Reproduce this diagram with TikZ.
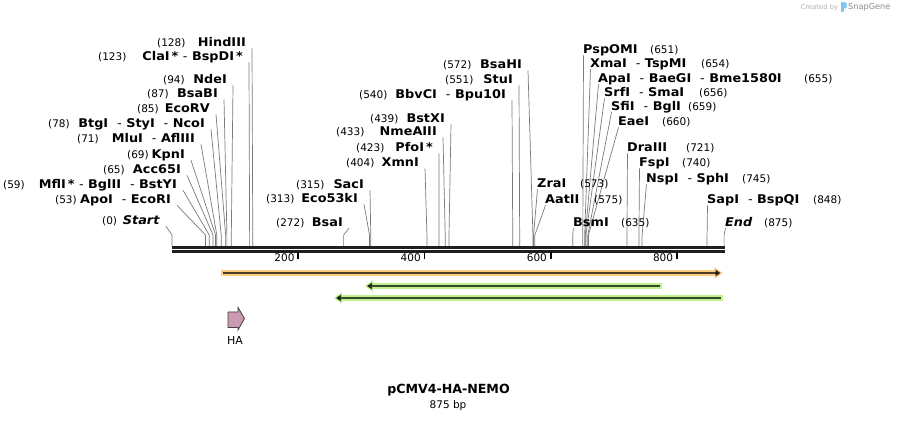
\documentclass[tikz,border=0pt]{standalone}
\usepackage{fontspec}
\setmainfont{DejaVu Sans}
\newfontfamily\cutfont{DejaVu Sans}[FakeStretch=1.07]
\usetikzlibrary{arrows.meta}
\definecolor{bandorange}{HTML}{FCCB7E}
\definecolor{bandgreen}{HTML}{BDF28F}
\definecolor{hapink}{HTML}{CC99B2}
\definecolor{logoblue}{HTML}{7FC8EE}
\newcommand{\dsh}{\ \ {\mdseries -}\ }
\tikzset{
    sitename/.style={inner sep=0pt, font=\fontsize{12}{14}\cutfont\bfseries},
    sitenum/.style={inner sep=0pt, font=\fontsize{10.5}{12}\selectfont},
    siteline/.style={draw=black!52, line width=0.7pt},
    axisbar/.style={draw=black!88, line width=2.7pt},
    tickmark/.style={draw=black, line width=1.8pt},
    band/.style={draw=#1, line width=6pt},
    core/.style={draw=black, opacity=0.7, line width=2.2pt}
}

\begin{document}
\begin{tikzpicture}[x=1pt, y=-1pt]
    \path[fill=white] (0,0) rectangle (898,422);
    \useasboundingbox (0,0) rectangle (898,422);

    % sequence axis
    \coordinate (top0) at (172,247.3);
    \coordinate (top1) at (725,247.3);
    \coordinate (bot0) at (172,251.3);
    \coordinate (bot1) at (725,251.3);
    \draw[axisbar] (top0) -- (top1);
    \draw[axisbar] (bot0) -- (bot1);
    \foreach \t in {200,400,600,800}{
        \coordinate (m\t) at ({172+0.631*\t},252.5);
        \draw[tickmark] (m\t) -- ++(0,7);
        \node[sitenum, anchor=base east] (t\t) at ({172+0.631*\t-3.5},262) {\t};
    }

    % labels left of the cut
    \foreach \bp/\ex/\cy/\nx/\txt in {
        128/246/42/157/HindIII,
        123/243/56/98/{ClaI\,*\ {\mdseries -}\ BspDI\,*},
        94/227/79/163/NdeI,
        87/218/93/147/BsaBI,
        85/210/108/137/EcoRV,
        78/205/123/48/{BtgI\dsh StyI\dsh NcoI},
        71/195/138/77/{MluI\dsh AflIII},
        69/185/154/127/KpnI,
        65/181/169/103/Acc65I,
        59/177/184/3/{MflI\,*\ {\mdseries -}\ BglII\dsh BstYI},
        53/171/199/55/{ApoI\dsh EcoRI},
        0/160/220/102/\textit{Start},
        572/522/64/443/BsaHI,
        551/513/79/445/StuI,
        540/506/94/359/{BbvCI\dsh Bpu10I},
        439/445/118/370/BstXI,
        433/437/131/336/NmeAIII,
        423/433/147/356/{PfoI\,*},
        404/419/162/346/XmnI,
        315/364/184/296/SacI,
        313/358/198/266/Eco53kI,
        272/343/222/276/BsaI}{
        \node[sitename, anchor=base east] (s\bp) at (\ex,{\cy+4.3}) {\txt};
        \node[sitenum, anchor=base west] (n\bp) at (\nx,{\cy+4.3}) {(\bp)};
        \coordinate (k\bp) at ({172+0.631*\bp},235);
        \coordinate (a\bp) at ({172+0.631*\bp},246);
        \draw[siteline] ([shift={(6,2)}]s\bp.base east) -- (k\bp) -- (a\bp);
    }

    % labels right of the cut
    \foreach \bp/\sx/\cy/\nx/\txt in {
        651/583/49/650/PspOMI,
        654/590/63/701/{XmaI\dsh TspMI},
        655/598/78/804/{ApaI\dsh BaeGI\dsh Bme1580I},
        656/604/92/699/{SrfI\dsh SmaI},
        659/611/106/688/{SfiI\dsh BglI},
        660/618/121/662/EaeI,
        721/627/147/686/DraIII,
        740/639/162/682/FspI,
        745/646/178/742/{NspI\dsh SphI},
        573/537/183/580/ZraI,
        575/545/199/594/AatII,
        848/707/199/813/{SapI\dsh BspQI},
        635/573/222/621/BsmI,
        875/725/222/764/\textit{End}}{
        \node[sitename, anchor=base west] (s\bp) at (\sx,{\cy+4.3}) {\txt};
        \node[sitenum, anchor=base west] (n\bp) at (\nx,{\cy+4.3}) {(\bp)};
        \coordinate (k\bp) at ({172+0.631*\bp},235);
        \coordinate (a\bp) at ({172+0.631*\bp},246);
        \draw[siteline] ([shift={(0.5,2)}]s\bp.base west) -- (k\bp) -- (a\bp);
    }

    % features
    \draw[band=bandorange, -{Triangle[length=8pt,width=11.5pt,line width=0pt]}] (221,273) -- (722.5,273);
    \draw[core, -{Triangle[length=5pt,width=6.5pt]}] (223,273) -- (720.5,273);
    \draw[band=bandgreen, -{Triangle[length=8pt,width=11.5pt,line width=0pt]}] (662,286) -- (365,286);
    \draw[core, -{Triangle[length=5pt,width=6.5pt]}] (660,286) -- (367,286);
    \draw[band=bandgreen, -{Triangle[length=8pt,width=11.5pt,line width=0pt]}] (723,298) -- (334,298);
    \draw[core, -{Triangle[length=5pt,width=6.5pt]}] (721,298) -- (336,298);

    \draw[fill=hapink, draw=black!75, line width=0.8pt]
        (228,312) -- (238,312) -- (238,307.5) -- (244.5,318.5)
        -- (238,330) -- (238,327.5) -- (228,327.5) -- cycle;
    \node[sitenum, font=\fontsize{11}{12}\selectfont] (ha) at (235,340) {HA};

    % title
    \node[inner sep=0pt, font=\fontsize{12.6}{14}\selectfont\bfseries] (plasmid) at (448.5,390.5) {pCMV4-HA-NEMO};
    \node[sitenum] (length) at (448,405.5) {875 bp};

    % \draw[help lines] (0,0) grid (898,422);
    \node[inner sep=0pt, anchor=west, text=black!30, font=\fontsize{6.8}{8}\selectfont] (made) at (800.5,7.5) {Created by};
    \fill[logoblue, rounded corners=1pt] (841,2.5) rectangle (846.5,8.5);
    \fill[logoblue] (841,2.5) rectangle (843.5,12.5);
    \node[inner sep=0pt, anchor=west, text=black!45, font=\fontsize{8.2}{9}\selectfont] (snap) at (848,7.5) {SnapGene};
\end{tikzpicture}
\end{document}
